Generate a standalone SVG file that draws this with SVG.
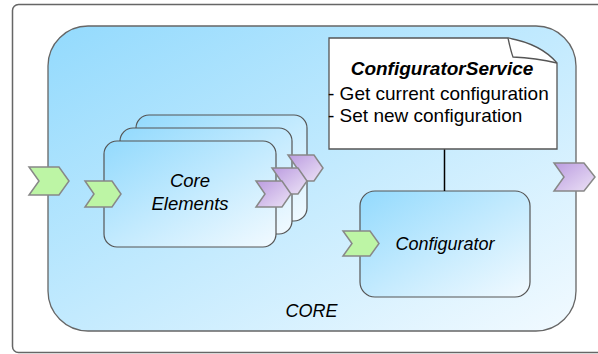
<svg xmlns="http://www.w3.org/2000/svg" width="598" height="354" viewBox="0 0 598 354">
<defs>
<linearGradient id="blue" x1="0" y1="0" x2="1" y2="1">
<stop offset="0" stop-color="#93dafd"/>
<stop offset="1" stop-color="#f2faff"/>
</linearGradient>
<linearGradient id="purple" x1="0" y1="0" x2="1" y2="1">
<stop offset="0" stop-color="#bb9ce0"/>
<stop offset="1" stop-color="#ece2f6"/>
</linearGradient>
<style>
.frame{fill:#fff;stroke:#666;stroke-width:1.5}
.box{fill:url(#blue);stroke:#555;stroke-width:1.2}
.core{fill:url(#blue);stroke:#666;stroke-width:1.3}
.in{fill:#bdf5a5;stroke:#888;stroke-width:1.5;stroke-linejoin:miter}
.out{fill:url(#purple);stroke:#888;stroke-width:1.5}
.note{fill:#fff;stroke:#555;stroke-width:1.3}
.conn{stroke:#000;stroke-width:1.5;fill:none}
text{font-family:"Liberation Sans",Arial,Helvetica,sans-serif;fill:#000}
.lbl{font-size:18px;font-style:italic;text-anchor:middle}
.big{font-size:18.5px}
.ttl{font-size:19px;font-style:italic;font-weight:bold;text-anchor:middle}
.item{font-size:19px}
</style>
</defs>
<rect class="frame" x="12.5" y="4.5" width="600" height="348" rx="6"/>
<g id="core">
<rect class="core" x="48" y="26" width="528" height="305" rx="40"/>
<text class="lbl" x="311.5" y="317">CORE</text>
</g>
<g id="core-elements">
<rect class="box" x="136" y="115" width="171" height="106" rx="13"/>
<rect class="box" x="120" y="128" width="172" height="106" rx="13"/>
<rect class="box" x="104" y="141" width="172" height="106" rx="13"/>
<text class="lbl big" x="190" y="187">Core</text>
<text class="lbl big" x="190" y="210">Elements</text>
</g>
<g id="configurator">
<rect class="box" x="360" y="191" width="170" height="106" rx="15"/>
<text class="lbl" x="445" y="250">Configurator</text>
</g>
<g id="connectors">
<line class="conn" x1="444.5" y1="149" x2="444.5" y2="191"/>
</g>
<g id="configurator-service">
<path class="note" d="M329,38 H508 Q541,44 557,63 V149 H329 Z"/>
<path class="note" d="M508,38 Q511,52 513,57 Q536,58 557,63" fill="none"/>
<text class="ttl" x="442" y="75">ConfiguratorService</text>
<text class="item" x="328" y="100">- Get current configuration</text>
<text class="item" x="328" y="122">- Set new configuration</text>
</g>
<g id="port-core-in">
<path class="in" d="M29,167 H59 L69,181 L59,195 H29 L39,181 Z"/>
</g>
<g id="port-elements-in">
<path class="in" d="M85,181 H112 L121,194 L112,207 H85 L94,194 Z"/>
</g>
<g id="port-configurator-in">
<path class="in" d="M343,231 H370 L379,243.5 L370,256 H343 L352,243.5 Z"/>
</g>
<g id="port-elements-out">
<path class="out" d="M288,155 H314 L323,168 L314,181 H288 L297,168 Z"/>
<path class="out" d="M272,168 H298 L307,181 L298,194 H272 L281,181 Z"/>
<path class="out" d="M256,181 H282 L291,194 L282,207 H256 L265,194 Z"/>
</g>
<g id="port-core-out">
<path class="out" d="M554,163 H584 L595,177 L584,191 H554 L564,177 Z"/>
</g>
</svg>
